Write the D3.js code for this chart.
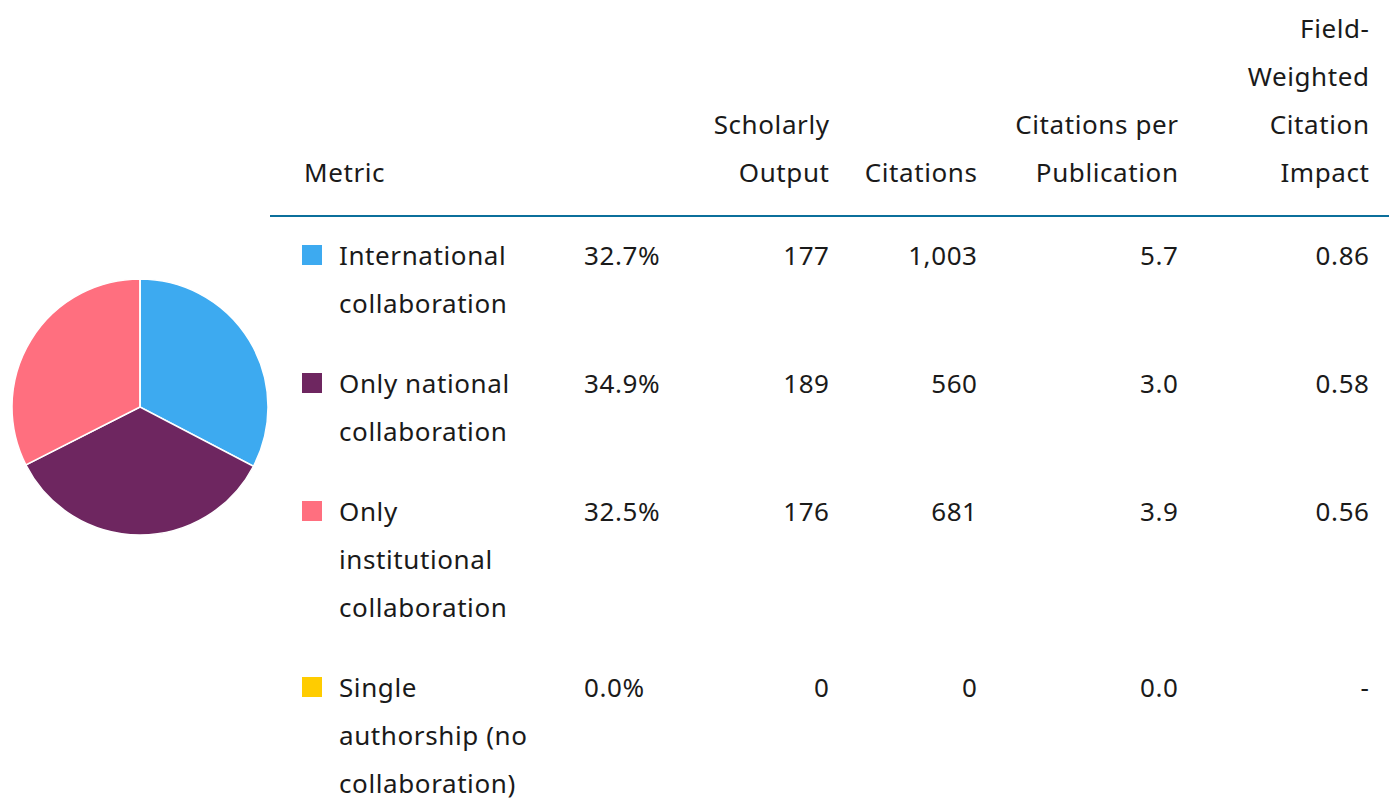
<!DOCTYPE html>
<head>
  <meta charset="utf-8">
  <title>Collaboration</title>
  <script src="https://cdn.jsdelivr.net/npm/d3@7"></script>
  <style>
    body { margin: 0; background: #fff; }
    text { font-family: "Noto Sans", sans-serif; font-size: 26px; letter-spacing: 0.6px; fill: #1a1a1a; }
  </style>
</head>

<body>
  <script type="text/javascript">
    var WIDTH = 1389;
    var HEIGHT = 799;

    //===========data
    var categories = [
      ["International", "collaboration"],
      ["Only national", "collaboration"],
      ["Only", "institutional", "collaboration"],
      ["Single", "authorship (no", "collaboration)"]
    ];
    var colors = ["#3daaf0", "#6e2660", "#ff6f7f", "#ffcc00"];
    var shares = ["32.7%", "34.9%", "32.5%", "0.0%"];
    var scholarlyOutput = [177, 189, 176, 0];
    var citations = [1003, 560, 681, 0];
    var citationsPerPub = [5.7, 3.0, 3.9, 0.0];
    var fwci = [0.86, 0.58, 0.56, null];
    var headers = [
      ["Scholarly", "Output"],
      ["Citations"],
      ["Citations per", "Publication"],
      ["Field-", "Weighted", "Citation", "Impact"]
    ];

    var svg = d3.select("body").append("svg")
                .attr("width", WIDTH)
                .attr("height", HEIGHT);

    //===========pie
    var pie = d3.pie().sort(null).value(function(d){ return d; });
    var arc = d3.arc().innerRadius(0).outerRadius(128);

    svg.append("g")
      .attr("transform", "translate(140,407)")
      .selectAll("path")
      .data(pie(scholarlyOutput))
      .enter().append("path")
      .attr("d", arc)
      .attr("fill", function(d, i){ return colors[i]; })
      .attr("stroke", "#fff")
      .attr("stroke-width", 1.5);

    //===========table
    var LINE = 48;
    var ROW_GAP = 32;
    var HEADER_BASE = 182;
    var colRight = [829, 977, 1178, 1369];

    // header
    svg.append("text").attr("x", 304).attr("y", HEADER_BASE).text("Metric");
    headers.forEach(function(lines, c){
      lines.forEach(function(s, k){
        svg.append("text")
          .attr("x", colRight[c] + 0.6)
          .attr("y", HEADER_BASE - (lines.length - 1 - k) * LINE)
          .attr("text-anchor", "end")
          .text(s);
      });
    });

    svg.append("line")
      .attr("x1", 270).attr("x2", WIDTH)
      .attr("y1", 216).attr("y2", 216)
      .attr("stroke", "#0b6f9b")
      .attr("stroke-width", 2);

    // rows
    var fmt = d3.format(",");
    var base = 265;
    categories.forEach(function(lines, i){
      var g = svg.append("g").attr("transform", "translate(0," + base + ")");
      g.append("rect")
        .attr("x", 302).attr("y", -20)
        .attr("width", 20).attr("height", 20)
        .attr("fill", colors[i]);
      lines.forEach(function(s, k){
        g.append("text").attr("x", 339).attr("y", k * LINE).text(s);
      });
      g.append("text").attr("x", 584).attr("y", 0).text(shares[i]);
      var vals = [
        fmt(scholarlyOutput[i]),
        fmt(citations[i]),
        citationsPerPub[i].toFixed(1),
        fwci[i] == null ? "-" : fwci[i].toFixed(2)
      ];
      vals.forEach(function(v, c){
        g.append("text")
          .attr("x", colRight[c] + 0.6).attr("y", 0)
          .attr("text-anchor", "end")
          .text(v);
      });
      base += lines.length * LINE + ROW_GAP;
    });
  </script>
</body>
